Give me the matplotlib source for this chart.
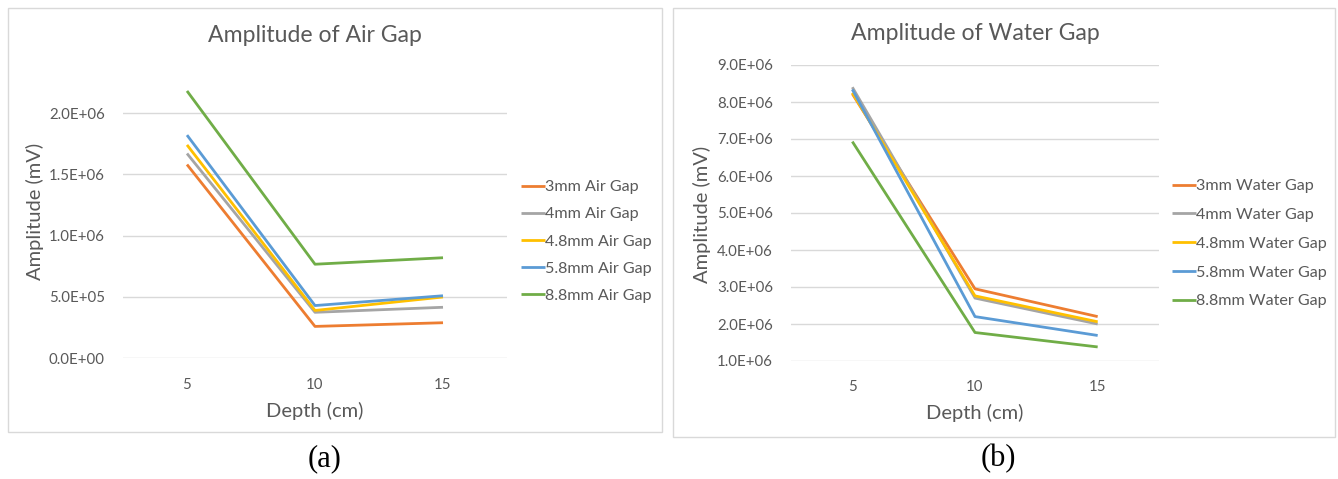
import matplotlib
matplotlib.use("Agg")
import matplotlib.pyplot as plt
from matplotlib.patches import Rectangle

depths = ["5", "10", "15"]

air_labels = ["3mm Air Gap", "4mm Air Gap", "4.8mm Air Gap", "5.8mm Air Gap", "8.8mm Air Gap"]
air_3mm = [1.58e6, 0.26e6, 0.29e6]
air_4mm = [1.67e6, 0.375e6, 0.416e6]
air_48mm = [1.74e6, 0.39e6, 0.50e6]
air_58mm = [1.82e6, 0.43e6, 0.51e6]
air_88mm = [2.18e6, 0.767e6, 0.82e6]

water_labels = ["3mm Water Gap", "4mm Water Gap", "4.8mm Water Gap", "5.8mm Water Gap", "8.8mm Water Gap"]
water_3mm = [8.22e6, 2.95e6, 2.20e6]
water_4mm = [8.40e6, 2.70e6, 2.00e6]
water_48mm = [8.25e6, 2.76e6, 2.06e6]
water_58mm = [8.34e6, 2.20e6, 1.69e6]
water_88mm = [6.93e6, 1.77e6, 1.38e6]

air_ticks = [0, 0.5e6, 1.0e6, 1.5e6, 2.0e6]
water_ticks = [1e6, 2e6, 3e6, 4e6, 5e6, 6e6, 7e6, 8e6, 9e6]

colors = ["#ED7D31", "#A5A5A5", "#FFC000", "#5B9BD5", "#70AD47"]
TXT = "#595959"
plt.rcParams['font.family'] = ['Lato', 'DejaVu Sans']

W, H = 1338, 479
fig = plt.figure(figsize=(W / 100, H / 100), dpi=100)


def ax_px(x0, y0, x1, y1):
    return fig.add_axes([x0 / W, 1 - y1 / H, (x1 - x0) / W, (y1 - y0) / H])


def fmt(v):
    return "%.1E" % v


def panel(ax, series, labels, ticks, ylim, title, title_y, ylab_xy, leg_xy, leg_sp):
    x = list(range(len(depths)))
    for s, lab, c in zip(series, labels, colors):
        ax.plot(x, s, color=c, lw=2.0, label=lab, solid_capstyle='butt')
    ax.set_xlim(-0.5, 2.5)
    ax.set_ylim(*ylim)
    ax.set_xticks(x)
    ax.set_xticklabels(depths)
    ax.set_yticks(ticks)
    ax.set_yticklabels([fmt(t) for t in ticks])
    for t in ticks:
        ax.axhline(t, color="#D9D9D9", lw=1.0, zorder=0)
    for sp in ax.spines.values():
        sp.set_visible(False)
    ax.tick_params(length=0, labelsize=10.8, colors=TXT)
    ax.tick_params(axis='y', pad=13)
    ax.tick_params(axis='x', pad=14)
    ax.set_xlabel("Depth (cm)", fontsize=14.5, color=TXT, labelpad=7)
    fig.text(ylab_xy[0] / W, 1 - ylab_xy[1] / H, "Amplitude (mV)", fontsize=14.5, color=TXT,
             rotation=90, ha="center", va="center")
    pos = ax.get_position()
    fig.text(pos.x0 + pos.width / 2, 1 - title_y / H, title,
             fontsize=16.6, color=TXT, ha="center", va="center")
    leg = fig.legend(loc="upper left", bbox_to_anchor=(leg_xy[0] / W, 1 - leg_xy[1] / H),
                     frameon=False, fontsize=11.6, handlelength=1.5, handletextpad=0.0,
                     labelspacing=leg_sp, borderaxespad=0, borderpad=0,
                     handles=ax.get_lines(), labels=labels)
    for t in leg.get_texts():
        t.set_color(TXT)


# panel borders
fig.patches.append(Rectangle((8 / W, 1 - 432 / H), (662 - 8) / W, (432 - 8) / H,
                             transform=fig.transFigure, fill=False, ec="#D9D9D9", lw=1.0))
fig.patches.append(Rectangle((673 / W, 1 - 437 / H), (1335 - 673) / W, (437 - 8) / H,
                             transform=fig.transFigure, fill=False, ec="#D9D9D9", lw=1.0))

ax1 = ax_px(123, 51.7, 507, 358.3)
ax2 = ax_px(791, 65, 1159, 361)

panel(ax1, [air_3mm, air_4mm, air_48mm, air_58mm, air_88mm], air_labels, air_ticks,
      (0, 2.5e6), "Amplitude of Air Gap", 36, (35, 211), (521, 180), 0.8)
panel(ax2, [water_3mm, water_4mm, water_48mm, water_58mm, water_88mm], water_labels, water_ticks,
      (1e6, 9e6), "Amplitude of Water Gap", 33, (702, 214), (1172, 179), 0.9)

fig.text(325 / W, 1 - 459 / H, "(a)", fontsize=22, family="Liberation Serif", ha="center", va="center")
fig.text(998 / W, 1 - 459 / H, "(b)", fontsize=22, family="Liberation Serif", ha="center", va="center")

fig.savefig("out.png", dpi=100)
